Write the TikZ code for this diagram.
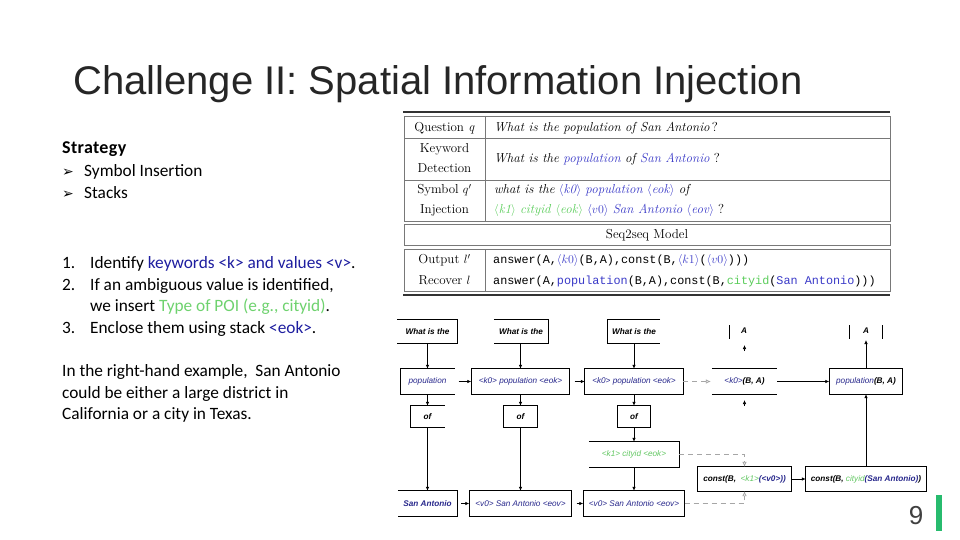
\documentclass[tikz,border=0pt]{standalone}
\usepackage{fontspec}
\newfontfamily\arial{Liberation Sans}
\newfontfamily\calibri{Carlito}
\newfontfamily\calibrib[LetterSpace=2]{Carlito}
\newfontfamily\monof{Liberation Mono}
\newfontfamily\dejavu{DejaVu Sans}
\usetikzlibrary{arrows.meta}
\definecolor{tblue}{RGB}{58,58,200}
\definecolor{tgreen}{RGB}{90,205,90}
\definecolor{fblue}{RGB}{40,40,140}
\definecolor{fgreen}{RGB}{100,200,100}
\definecolor{lblue}{RGB}{30,30,160}
\definecolor{lgreen}{RGB}{110,210,110}
\definecolor{barg}{RGB}{39,187,110}
\definecolor{tline}{RGB}{120,120,120}
\tikzset{
  fc/.style={inner sep=0pt, font=\arial\itshape\fontsize{8.2}{9}\selectfont},
  fl/.style={draw=black, line width=0.7pt},
  arr/.style={-{Latex[length=4pt,width=3.5pt]}, line width=0.7pt},
  darr/.style={dash pattern=on 5pt off 4pt, draw=gray!70, line width=0.7pt, -{Latex[open,length=5pt,width=4.5pt]}},
  ltxt/.style={anchor=base west, inner sep=0pt, font=\calibri\fontsize{17.3}{20}\selectfont},
  ttxt/.style={inner sep=0pt, font=\fontsize{13}{15}\selectfont},
  tl/.style={draw=tline, line width=0.6pt},
}
\begin{document}
\begin{tikzpicture}[x=1pt,y=-1pt]
\useasboundingbox (0,0) rectangle (960,540);
\fill[white] (0,0) rectangle (960,540);

% title
\node[anchor=base west, inner sep=0pt, font=\arial\fontsize{40}{44}\selectfont, text=black!85] (title) at (73,95) {Challenge II: Spatial Information Injection};

% left text
\node[ltxt, font=\calibrib\bfseries\fontsize{18}{20}\selectfont] (strat) at (62,154) {Strategy};
\node[ltxt, font=\dejavu\fontsize{14}{16}\selectfont] (b1) at (62,177) {➢};
\node[ltxt] (s1) at (84,177) {Symbol Insertion};
\node[ltxt, font=\dejavu\fontsize{14}{16}\selectfont] (b2) at (62,198) {➢};
\node[ltxt] (s2) at (84,198) {Stacks};
\node[ltxt] (n1) at (62,268) {1.};
\node[ltxt] (l1) at (90,268) {Identify \textcolor{lblue}{keywords <k> and values <v>}.};
\node[ltxt] (n2) at (62,290) {2.};
\node[ltxt] (l2) at (90,290) {If an ambiguous value is identified,};
\node[ltxt] (l2b) at (90,311) {we insert \textcolor{lgreen}{Type of POI (e.g., cityid)}.};
\node[ltxt] (n3) at (62,333) {3.};
\node[ltxt] (l3) at (90,333) {Enclose them using stack \textcolor{lblue}{<eok>}.};
\node[ltxt] (p1) at (62,376) {In the right-hand example,\ \ San Antonio};
\node[ltxt] (p2) at (62,398) {could be either a large district in};
\node[ltxt] (p3) at (62,419) {California or a city in Texas.};

% table
\draw[line width=2pt, black!80] (403,112) -- (890,112);
\draw[tl] (404,116) rectangle (890,221);
\draw[tl] (404,138.5) -- (890,138.5);
\draw[tl] (404,180) -- (890,180);
\draw[tl] (485,116) -- (485,221);
\draw[tl] (404,224) rectangle (890,245);
\draw[tl] (404,249) rectangle (890,291);
\draw[tl] (485,249) -- (485,291);
\draw[line width=2pt, black!80] (403,294.5) -- (890,294.5);

\node[ttxt, anchor=base] (q) at (444.5,131.5) {Question \textit{q}};
\node[ttxt, anchor=base west] (qt) at (494,131.5) {\textit{What is the population of San Antonio}\,?};
\node[ttxt, anchor=base] (kd1) at (444.5,152.5) {Keyword};
\node[ttxt, anchor=base] (kd2) at (444.5,172.5) {Detection};
\node[ttxt, anchor=base west] (kt) at (494,162.5) {\textit{What is the \textcolor{tblue}{population} of \textcolor{tblue}{San Antonio}} ?};
\node[ttxt, anchor=base] (si1) at (444.5,193.5) {Symbol $q'$};
\node[ttxt, anchor=base] (si2) at (444.5,213.5) {Injection};
\node[ttxt, anchor=base west] (st1) at (494,193.5) {\textit{what is the} \textcolor{tblue}{$\langle$\textit{k0}$\rangle$ \textit{population} $\langle$\textit{eok}$\rangle$} \textit{of}};
\node[ttxt, anchor=base west] (st2) at (494,213.5) {\textcolor{tgreen}{$\langle$\textit{k1}$\rangle$ \textit{cityid} $\langle$\textit{eok}$\rangle$} \textcolor{tblue}{$\langle v0\rangle$ \textit{San Antonio} $\langle$\textit{eov}$\rangle$} ?};
\node[ttxt, anchor=base] (seq) at (647,238.5) {Seq2seq Model};
\node[ttxt, anchor=base] (ol) at (444.5,263.5) {Output $l'$};
\node[ttxt, anchor=base] (rl) at (444.5,284) {Recover $l$};
\node[ttxt, anchor=base west, font=\monof\fontsize{11.8}{14}\selectfont] (oc) at (493,263.5) {answer(A,\textcolor{tblue}{\fontsize{13}{15}\selectfont$\langle k0\rangle$}(B,A),const(B,\textcolor{tblue}{\fontsize{13}{15}\selectfont$\langle k1\rangle$}(\textcolor{tblue}{\fontsize{13}{15}\selectfont$\langle v0\rangle$})))};
\node[ttxt, anchor=base west, font=\monof\fontsize{11.8}{14}\selectfont] (rc) at (493,284) {answer(A,\textcolor{tblue}{population}(B,A),const(B,\textcolor{tgreen}{cityid}(\textcolor{tblue}{San Antonio})))};

% flowchart nodes
\node[fc, minimum width=60pt, minimum height=23pt] (w1) at (427.5,331.5) {\bfseries What is the};
\node[fc, minimum width=54pt, minimum height=23pt] (w2) at (521,331.5) {\bfseries What is the};
\node[fc, minimum width=52pt, minimum height=23pt] (w3) at (634,331.5) {\bfseries What is the};
\node[fc, minimum width=54pt, minimum height=25pt] (p1b) at (427.5,381.5) {\textcolor{fblue}{population}};
\node[fc, minimum width=98pt, minimum height=25pt] (p2b) at (520.5,381.5) {\textcolor{fblue}{<k0> population <eok>}};
\node[fc, minimum width=98pt, minimum height=25pt] (p3b) at (634,381.5) {\textcolor{fblue}{<k0> population <eok>}};
\node[fc, minimum width=34pt, minimum height=21pt] (o1) at (427.5,416.5) {\bfseries of};
\node[fc, minimum width=34pt, minimum height=21pt] (o2) at (520.5,416.5) {\bfseries of};
\node[fc, minimum width=33pt, minimum height=21pt] (o3) at (634,416.5) {\bfseries of};
\node[fc, minimum width=90pt, minimum height=25pt] (kc) at (634,454.5) {\textcolor{fgreen}{<k1> cityid <eok>}};
\node[fc, minimum width=59pt, minimum height=25pt] (sa1) at (427.5,503.5) {\bfseries\textcolor{fblue}{San Antonio}};
\node[fc, minimum width=102pt, minimum height=25pt] (sa2) at (520.5,503.5) {\textcolor{fblue}{<v0> San Antonio <eov>}};
\node[fc, minimum width=101pt, minimum height=25pt] (sa3) at (634,503.5) {\textcolor{fblue}{<v0> San Antonio <eov>}};
\node[fc, minimum width=65pt, minimum height=25pt] (kba) at (744.5,381.5) {\textcolor{fblue}{<k0>}\bfseries(B, A)};
\node[fc, minimum width=73pt, minimum height=25pt] (pba) at (866,381.5) {\textcolor{fblue}{population}\bfseries(B, A)};
\node[fc, minimum width=93pt, minimum height=24pt] (c1) at (744.5,479) {\bfseries const(B,\ \ \textcolor{fgreen}{\mdseries<k1>}\textcolor{fblue}{(<v0>))}};
\node[fc, minimum width=120pt, minimum height=24pt] (c2) at (866,479) {\bfseries const(B, \textcolor{fgreen}{\mdseries cityid}\textcolor{fblue}{(San Antonio)})};
\node[fc] (a4) at (744,331) {\bfseries A};
\node[fc] (a5) at (866,331) {\bfseries A};

% partial / full box outlines
\draw[fl] (w1.north west) -- (w1.north east) -- (w1.south east) -- (w1.south west);
\draw[fl] (w2.north west) -- (w2.north east) -- (w2.south east) -- (w2.south west);
\draw[fl] (w3.north east) -- (w3.north west) -- (w3.south west) -- (w3.south east);
\draw[fl] (p1b.north east) -- (p1b.north west) -- (p1b.south west) -- (p1b.south east);
\draw[fl] (p2b.north west) rectangle (p2b.south east);
\draw[fl] (p3b.north west) rectangle (p3b.south east);
\draw[fl] (o1.north east) -- (o1.north west) -- (o1.south west) -- (o1.south east);
\draw[fl] (o2.north west) rectangle (o2.south east);
\draw[fl] (o3.north west) rectangle (o3.south east);
\draw[fl] (kc.north west) -- (kc.north east) -- (kc.south east) -- (kc.south west);
\draw[fl] (sa1.north west) -- (sa1.north east) -- (sa1.south east) -- (sa1.south west);
\draw[fl] (sa2.north west) rectangle (sa2.south east);
\draw[fl] (sa3.north west) rectangle (sa3.south east);
\draw[fl] (kba.north west) -- (kba.north east);
\draw[fl] (kba.south west) -- (kba.south east);
\draw[fl] (pba.north west) rectangle (pba.south east);
\draw[fl] (c1.north west) rectangle (c1.south east);
\draw[fl] (c2.north west) rectangle (c2.south east);
\coordinate (a4l1) at (729,325);
\coordinate (a4l2) at (729,339);
\draw[fl] (a4l1) -- (a4l2);
\coordinate (a5l1) at (849,325);
\coordinate (a5l2) at (849,339);
\coordinate (a5r1) at (882,325);
\coordinate (a5r2) at (882,339);
\draw[fl] (a5l1) -- (a5l2);
\draw[fl] (a5r1) -- (a5r2);

% vertical arrows
\draw[arr] (w1.south) -- (p1b.north);
\draw[arr] (p1b.south) -- (o1.north);
\draw[arr] (o1.south) -- (sa1.north);
\draw[arr] (w2.south -| p2b.north) -- (p2b.north);
\draw[arr] (p2b.south) -- (o2.north);
\draw[arr] (o2.south) -- (sa2.north);
\draw[arr] (w3.south) -- (p3b.north);
\draw[arr] (p3b.south) -- (o3.north);
\draw[arr] (o3.south) -- (kc.north);
\draw[arr] (kc.south) -- (sa3.north);
% horizontal short arrows
\draw[arr] ([xshift=4pt]p1b.east) -- (p2b.west);
\draw[arr] ([xshift=5pt]p2b.east) -- (p3b.west);
\draw[arr] ([xshift=4pt]sa1.east) -- (sa2.west);
\draw[arr] ([xshift=5pt]sa2.east) -- (sa3.west);
% column 4/5
\draw[darr] (p3b.east) -- ([xshift=-1pt]kba.west);
\draw[arr] (kba.east) -- (pba.west);
\draw[arr] (pba.north) -- ([yshift=-6pt]a5.south);
\draw[arr] (c2.north) -- (pba.south);
\draw[arr] (c1.east) -- (c2.west);
\coordinate (t4a) at (744.5,351);
\coordinate (t4b) at (744.5,345);
\draw[arr] (t4a) -- (t4b);
\coordinate (t4c) at (744.5,406);
\coordinate (t4d) at (744.5,400);
\draw[arr] (t4c) -- (t4d);
\draw[darr] (kc.east) -| (c1.north);
\draw[darr] (sa3.east) -| (c1.south);

% page number and bar
\node[inner sep=0pt, font=\arial\fontsize{26}{30}\selectfont, text=black!75] (pg) at (916,516) {9};
\fill[barg] (936,495) rectangle (942,531);
\end{tikzpicture}
\end{document}
